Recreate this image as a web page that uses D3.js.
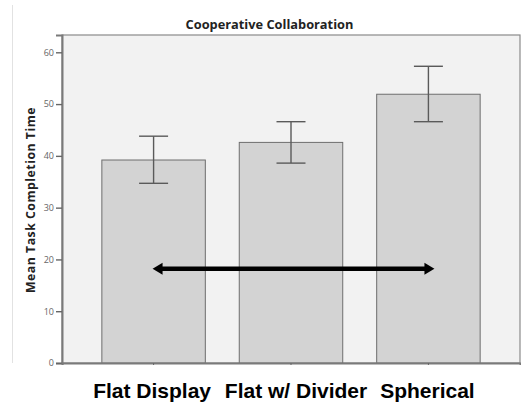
<!DOCTYPE html>
<html>
<head>
<meta charset="utf-8">
<script src="https://cdn.jsdelivr.net/npm/d3@7"></script>
<style>
  html, body { margin: 0; padding: 0; background: #fff; }
  svg { display: block; }
</style>
</head>
<body>
<svg id="chart" width="521" height="406"></svg>
<script>
const categories = ["Flat Display", "Flat w/ Divider", "Spherical"];
const means = [39.2, 42.6, 51.9];
const ciLow = [34.7, 38.6, 46.6];
const ciHigh = [43.8, 46.6, 57.3];
const yTicks = [0, 10, 20, 30, 40, 50, 60];
const arrowValue = 18.2;
const title = "Cooperative Collaboration";
const yTitle = "Mean Task Completion Time";

const svg = d3.select("#chart");
const pLeft = 62, pRight = 520, pTop = 35, pBottom = 363;

const x = d3.scaleBand().domain(categories).range([pLeft, pRight])
  .paddingInner(0.247).paddingOuter(0.29);
const y = d3.scaleLinear().domain([0, 63.34]).range([pBottom, pTop]);

// faint crop line at the left
svg.append("line").attr("x1", 12.5).attr("x2", 12.5).attr("y1", 5).attr("y2", pBottom)
  .attr("stroke", "#e2e2e2").attr("stroke-width", 1);

// plot background / frame
svg.append("rect").attr("x", pLeft).attr("y", pTop)
  .attr("width", pRight - pLeft).attr("height", pBottom - pTop)
  .attr("fill", "#f2f2f2").attr("stroke", "#8a8a8a").attr("stroke-width", 1.2);

// bars
svg.selectAll("rect.bar").data(categories).join("rect").attr("class", "bar")
  .attr("x", d => x(d)).attr("width", x.bandwidth())
  .attr("y", (d, i) => y(means[i])).attr("height", (d, i) => y(0) - y(means[i]))
  .attr("fill", "#d3d3d3").attr("stroke", "#6e6e6e").attr("stroke-width", 1);

// error bars
const capW = 29;
const eg = svg.append("g").attr("stroke", "#5a5a5a").attr("stroke-width", 1.4);
categories.forEach((c, i) => {
  const cx = x(c) + x.bandwidth() / 2;
  eg.append("line").attr("x1", cx).attr("x2", cx).attr("y1", y(ciHigh[i])).attr("y2", y(ciLow[i]));
  eg.append("line").attr("x1", cx - capW / 2).attr("x2", cx + capW / 2).attr("y1", y(ciHigh[i])).attr("y2", y(ciHigh[i]));
  eg.append("line").attr("x1", cx - capW / 2).attr("x2", cx + capW / 2).attr("y1", y(ciLow[i])).attr("y2", y(ciLow[i]));
});

// y axis
const yAxis = d3.axisLeft(y).tickValues(yTicks).tickSize(6).tickPadding(2);
const ya = svg.append("g").attr("transform", `translate(${pLeft},0)`).call(yAxis);
ya.select(".domain").attr("stroke", "#7a7a7a").attr("stroke-width", 2);
ya.selectAll(".tick line").attr("stroke", "#666").attr("stroke-width", 1.4);
ya.selectAll(".tick text").attr("fill", "#666").attr("font-size", "9px")
  .attr("font-family", "'Open Sans', sans-serif");

// x axis baseline with tiny ticks
const xAxis = d3.axisBottom(x).tickSize(2).tickFormat("");
const xa = svg.append("g").attr("transform", `translate(0,${pBottom})`).call(xAxis);
xa.select(".domain").attr("stroke", "#7a7a7a").attr("stroke-width", 2);
xa.selectAll(".tick line").attr("stroke", "#666");

// title
svg.append("text").attr("x", 269.5).attr("y", 29).attr("text-anchor", "middle")
  .attr("font-family", "'Open Sans', sans-serif").attr("font-weight", "bold")
  .attr("font-size", "12.8px").attr("fill", "#222").text(title);

// y title
svg.append("text").attr("transform", "translate(35,200) rotate(-90)")
  .attr("text-anchor", "middle")
  .attr("font-family", "'Open Sans', sans-serif").attr("font-weight", "bold")
  .attr("font-size", "12.3px").attr("letter-spacing", "0.5px").attr("fill", "#222").text(yTitle);

// category labels (middle one sits slightly right of its bar in the original)
const labelNudge = [-1.5, 5, -1];
svg.selectAll("text.cat").data(categories).join("text").attr("class", "cat")
  .attr("x", (d, i) => x(d) + x.bandwidth() / 2 + labelNudge[i]).attr("y", 398)
  .attr("text-anchor", "middle")
  .attr("font-family", "'Liberation Sans', Arial, sans-serif").attr("font-weight", "bold")
  .attr("font-size", "21px").attr("fill", "#000").text(d => d);

// double-headed arrow annotation
const ay = y(arrowValue);
const ax1 = x(categories[0]) + x.bandwidth() / 2 - 1;
const ax2 = x(categories[2]) + x.bandwidth() / 2 + 6;
const headL = 10, headH = 6;
svg.append("line").attr("x1", ax1 + headL - 1).attr("x2", ax2 - headL + 1)
  .attr("y1", ay).attr("y2", ay).attr("stroke", "#000").attr("stroke-width", 4.5);
svg.append("path")
  .attr("d", `M${ax1},${ay} L${ax1 + headL},${ay - headH} L${ax1 + headL},${ay + headH} Z`)
  .attr("fill", "#000");
svg.append("path")
  .attr("d", `M${ax2},${ay} L${ax2 - headL},${ay - headH} L${ax2 - headL},${ay + headH} Z`)
  .attr("fill", "#000");
</script>
</body>
</html>
